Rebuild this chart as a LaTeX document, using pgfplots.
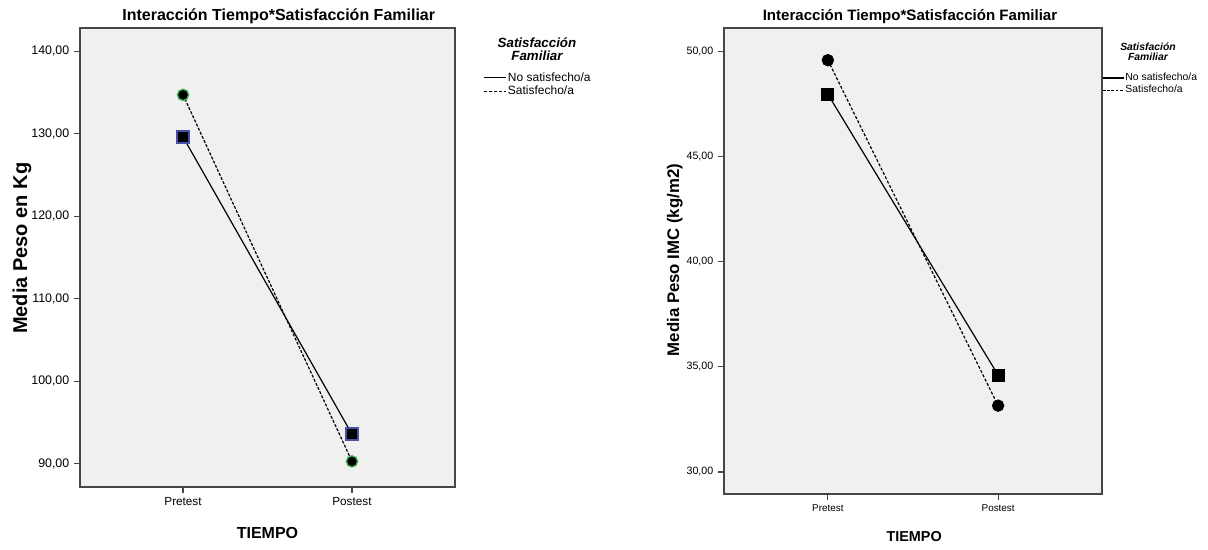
\documentclass[border=0pt]{standalone}
\usepackage{pgfplots}
\pgfplotsset{compat=1.18}
\usepackage{fontspec}
\setmainfont{Liberation Sans}

\definecolor{panel}{RGB}{240,240,240}
\definecolor{boxline}{RGB}{70,70,70}
\definecolor{sqedge}{RGB}{70,80,165}
\definecolor{ciedge}{RGB}{60,175,80}

\newcommand{\fs}[1]{\fontsize{#1}{1.2\dimexpr#1pt\relax}\selectfont}

\pgfplotsset{
  spss/.style={
    scale only axis,
    anchor=south west,
    axis background/.style={fill=panel},
    axis line style={draw=boxline, line width=0.9pt},
    tick style={draw=boxline, line width=0.9pt},
    tick align=outside,
    major tick length=4.5pt,
    xtick pos=bottom, ytick pos=left,
    xmin=-0.61, xmax=1.61,
    xtick={0,1}, xticklabels={Pretest,Postest},
    /pgf/number format/.cd, fixed, fixed zerofill, precision=2, use comma, 1000 sep={}, assume math mode=true,
    /pgfplots/.cd,
    every axis title shift=0pt,
    title style={font=\bfseries\fs{12}, anchor=center, yshift=0pt},
    xlabel style={font=\bfseries\fs{12}, anchor=center},
    ylabel style={font=\bfseries\fs{15}, anchor=center},
    legend style={draw=none, fill=none, anchor=north west, inner sep=0pt,
      nodes={inner xsep=1pt, inner ysep=0.5pt}, row sep=1pt},
    legend cell align=left,
  },
}

\begin{document}
\begin{tikzpicture}
\path[use as bounding box, fill=white] (0,0) rectangle (906pt,412.5pt);

% ---- left: peso en kg
\begin{axis}[spss,
  at={(60pt,47.25pt)}, width=281.25pt, height=344.25pt,
  ymin=87.2, ymax=142.8, ytick={90,100,...,140},
  yticklabel style={font=\fs{9.3}},
  xticklabel style={font=\fs{8.8}},
  title={Interacción Tiempo*Satisfacción Familiar},
  title style={at={(axis description cs:0.53,1.026)}},
  xlabel={TIEMPO}, xlabel style={at={(axis description cs:0.5,-0.1)}},
  ylabel={Media Peso en Kg}, ylabel style={at={(axis description cs:-0.155,0.52)}},
  legend style={at={(axis description cs:1.075,0.905)}, font=\fs{9}},
  legend image code/.code={\draw[#1] (0pt,0pt) -- (16.5pt,0pt);},
]
\addplot[black, line width=0.9pt, solid, mark=square*, mark size=4.5pt,
  mark options={solid, fill=black, draw=sqedge, line width=1pt}, forget plot]
  coordinates {(0,129.6) (1,93.6)};
\addplot[black, line width=0.9pt, dash pattern=on 2.2pt off 1.2pt, mark=*, mark size=4.2pt,
  mark options={solid, fill=black, draw=ciedge, line width=1pt}, forget plot]
  coordinates {(0,134.7) (1,90.3)};
\addlegendimage{black, line width=0.9pt, solid}
\addlegendentry{No satisfecho/a}
\addlegendimage{black, line width=0.9pt, dash pattern=on 2.5pt off 1.2pt}
\addlegendentry{Satisfecho/a}
\end{axis}
\node[align=center, font=\bfseries\itshape\fs{10}, inner sep=0pt] at (402.75pt,375.75pt)
  {Satisfacción\\[-2pt]Familiar};

% ---- right: IMC
\begin{axis}[spss,
  at={(543pt,42pt)}, width=283.5pt, height=349.5pt,
  ymin=28.95, ymax=51.1, ytick={30,35,...,50},
  yticklabel style={font=\fs{8}},
  xticklabel style={font=\fs{7.4}},
  title={Interacción Tiempo*Satisfacción Familiar},
  title style={font=\bfseries\fs{11.3}, at={(axis description cs:0.492,1.024)}},
  xlabel={TIEMPO}, xlabel style={font=\bfseries\fs{10.8}, at={(axis description cs:0.503,-0.092)}},
  ylabel={Media Peso IMC (kg/m2)}, ylabel style={font=\bfseries\fs{12.6}, at={(axis description cs:-0.13,0.502)}},
  legend style={at={(axis description cs:1.0,0.905)}, font=\fs{7.8}},
  legend image code/.code={\draw[#1] (0pt,0pt) -- (15.5pt,0pt);},
]
\addplot[black, line width=0.9pt, solid, mark=square*, mark size=4.4pt,
  mark options={solid, fill=black}, forget plot]
  coordinates {(0,47.95) (1,34.6)};
\addplot[black, line width=0.9pt, dash pattern=on 2.2pt off 1.4pt, mark=*, mark size=4.2pt,
  mark options={solid, fill=black}, forget plot]
  coordinates {(0,49.57) (1,33.15)};
\addlegendimage{black, line width=0.9pt, solid}
\addlegendentry{No satisfecho/a}
\addlegendimage{black, line width=0.9pt, dash pattern=on 2pt off 1.2pt}
\addlegendentry{Satisfecho/a}
\end{axis}
\node[align=center, font=\bfseries\itshape\fs{7.8}, inner sep=0pt] at (861pt,373.5pt)
  {Satisfación\\[-2pt]Familiar};
\end{tikzpicture}
\end{document}
